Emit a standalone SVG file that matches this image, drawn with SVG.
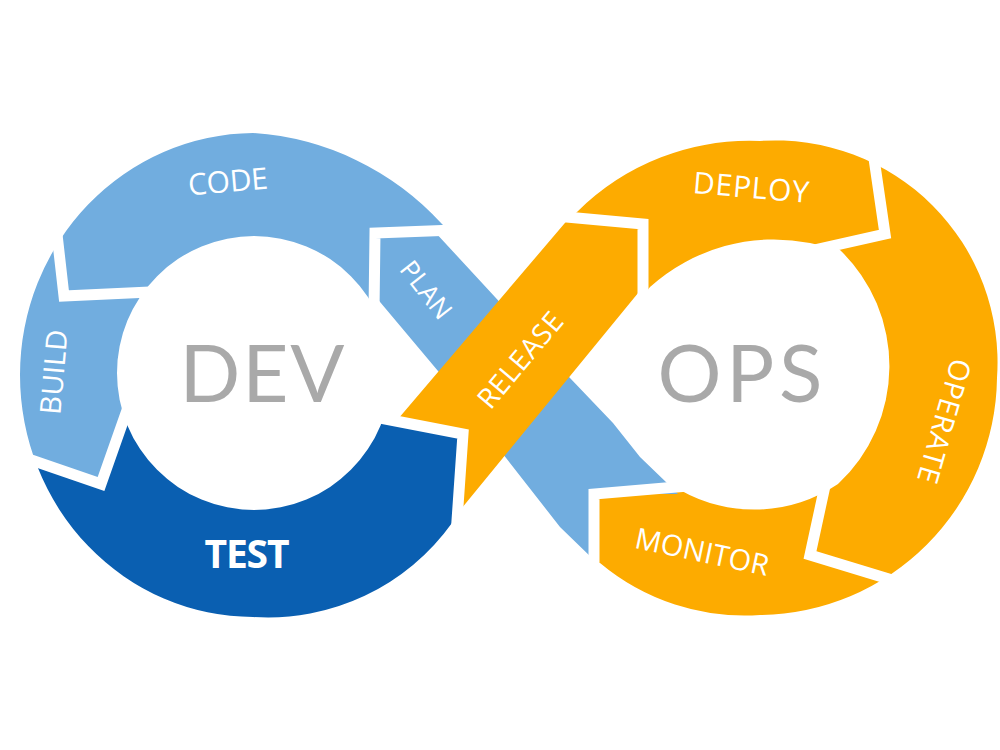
<svg xmlns="http://www.w3.org/2000/svg" width="1000" height="750" viewBox="0 0 1000 750">
<defs>
<clipPath id="leftRing"><path clip-rule="evenodd" d="M442 224A280 280 0 0 0 253 133A235 242 0 0 0 20 375A233 242 0 0 0 253 617A226 226 0 0 0 452 523L480 520L480 262ZM391 373A137 137 0 1 0 117 373A137 137 0 1 0 391 373Z"/></clipPath>
<clipPath id="rightRing"><path clip-rule="evenodd" d="M577 212A245 245 0 0 1 760 141A222 222 0 0 1 997 378A240 240 0 0 1 760 615A225 225 0 0 1 600 563L560 560L540 240ZM640 300L650 287A185 185 0 0 1 810 243L840 250A161 161 0 0 1 838 484A150 150 0 0 1 680 490L600 480L570 378Z"/></clipPath>
</defs>
<style>
.lb{fill:#71ADDF}
.db{fill:#0A5FB1}
.or{fill:#FDAB00}
.gap{fill:none;stroke:#fff;stroke-width:11;stroke-linejoin:miter;stroke-miterlimit:10}
.lbl{font-family:'Open Sans','Liberation Sans',sans-serif;fill:#fff;font-size:29px;text-anchor:middle}
.big{font-family:Lato,'Open Sans','Liberation Sans',sans-serif;fill:#A9A9A9;font-size:80px;text-anchor:middle}
</style>
<rect width="1000" height="750" fill="#fff"/>
<g id="code">
<path class="lb" clip-path="url(#leftRing)" d="M42 100L52 190L64 296L150 292L254 373L374 312L375 233L455 230L460 100Z"/>
<text class="lbl" style="font-size:30px" transform="translate(228,182) rotate(-5)" y="10" textLength="80" lengthAdjust="spacing">CODE</text>
</g>
<g id="build">
<path class="lb" clip-path="url(#leftRing)" d="M42 100L52 190L64 296L150 292L254 373L132 396L101 484L-20 442L-20 100Z"/>
<text class="lbl" transform="translate(54,372) rotate(-85)" y="10" textLength="85" lengthAdjust="spacing">BUILD</text>
</g>
<g id="test">
<path class="db" clip-path="url(#leftRing)" d="M-20 442L101 484L132 396L254 373L380 418L463 434L456 535L470 700L-20 700Z"/>
<text class="lbl" style="font-size:39px;font-weight:700" x="247" y="568" textLength="85" lengthAdjust="spacing">TEST</text>
</g>
<g id="deploy">
<path class="or" clip-path="url(#rightRing)" d="M540 214L643 224L643 300L757 378L805 252L885 234L871 138L865 100L540 100Z"/>
<text class="lbl" style="font-size:30px" transform="translate(751,188) rotate(5)" y="10" textLength="116" lengthAdjust="spacing">DEPLOY</text>
</g>
<g id="operate">
<path class="or" clip-path="url(#rightRing)" d="M865 100L871 138L885 234L805 252L757 378L828 472L810 555L902 583L1000 650L1000 100Z"/>
<text class="lbl" transform="translate(944,421) rotate(106)" y="10" textLength="128" lengthAdjust="spacing">OPERATE</text>
</g>
<g id="monitor">
<path class="or" clip-path="url(#rightRing)" d="M700 485L594 494L594 620L910 620L902 583L810 555L828 472L757 378Z"/>
<text class="lbl" transform="translate(702,552) rotate(12)" y="10" textLength="136" lengthAdjust="spacing">MONITOR</text>
</g>
<g id="plan">
<path class="lb" d="M375 233L434 231L570 378L613 423L640 457L667 483L678 494L594 494L594 560L560 527L438 371L375 296Z"/>
<text class="lbl" style="font-size:26px" transform="translate(426,290) rotate(52)" y="9" textLength="66" lengthAdjust="spacing">PLAN</text>
</g>
<g id="release">
<path class="or" d="M398 419L463 434L457 514L643 287L643 224L570 217Z"/>
<text class="lbl" style="font-size:28px" transform="translate(520,360) rotate(-50)" y="10" textLength="116" lengthAdjust="spacing">RELEASE</text>
</g>
<g id="separators">
<path class="gap" d="M52 190L64 296L150 292"/>
<path class="gap" d="M5 451L101 484L132 396"/>
<path class="gap" d="M375 417L463 434L456 535"/>
<path class="gap" d="M455 230L375 233L374 312"/>
<path class="gap" d="M550 215.5L643 224L643 300"/>
<path class="gap" d="M871 138L885 234L805 252"/>
<path class="gap" d="M828 472L810 555L902 583"/>
<path class="gap" d="M700 485L594 494L594 580"/>
</g>
<g id="dev"><text class="big" x="262" y="402" textLength="165" lengthAdjust="spacing">DEV</text></g>
<g id="ops"><text class="big" x="740" y="402" textLength="165" lengthAdjust="spacing">OPS</text></g>
</svg>
